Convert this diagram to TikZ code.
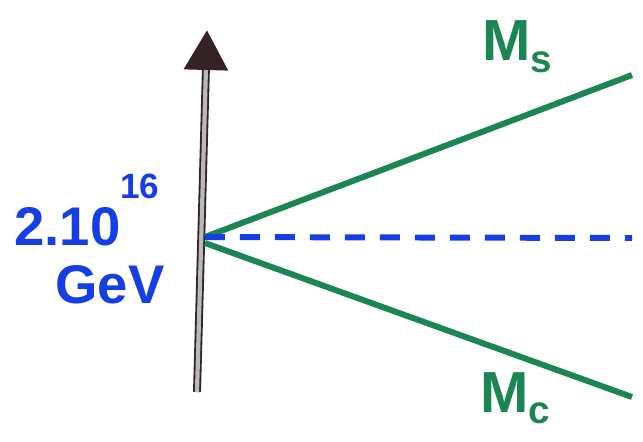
\documentclass[tikz,border=0pt]{standalone}
\usepackage{fontspec}
\setmainfont{Liberation Sans}
\usetikzlibrary{arrows.meta,positioning}

\definecolor{tintablau}{RGB}{22,62,230}
\definecolor{tintaverd}{RGB}{28,134,82}
\definecolor{tintafosc}{RGB}{52,34,36}

\begin{document}
\begin{tikzpicture}[x=0.02cm, y=-0.02cm,
    eix/.style={line width=4.5pt, draw=tintafosc,
        -{Triangle[length=0.8cm, width=0.85cm]}},
    eixcos/.style={line width=2.4pt, draw=gray!55, shorten >=0.8cm},
    recta/.style={line width=3.4pt, draw=tintaverd},
    unif/.style={line width=3.4pt, draw=tintablau, dash pattern=on 0.4cm off 0.3cm},
    etverd/.style={text=tintaverd, font=\bfseries\fontsize{33}{36}\selectfont, inner sep=0pt},
    etblau/.style={text=tintablau, font=\bfseries\fontsize{31}{34}\selectfont, inner sep=0pt}
]
    \useasboundingbox (0,0) rectangle (643,441);

    % eix d'energia
    \coordinate (base) at (197,392);
    \coordinate (cim) at (207,30);
    \coordinate (gut) at (205,237);
    \draw[eix] (base) -- (cim);
    \draw[eixcos] (base) -- (cim);

    % extrems de les rectes
    \coordinate (fiS) at (632,75);
    \coordinate (fiC) at (632,397);
    \coordinate (fiU) at (632,238);
    \draw[recta] (gut) -- (fiS);
    \draw[recta] (205,243) -- (fiC);
    \draw[unif] (gut) -- (fiU);

    % etiquetes
    \node[etverd, anchor=base west] (ms) at (482,60)
        {M\raisebox{-0.22em}{\fontsize{22}{24}\selectfont s}};
    \node[etverd, anchor=base west] (mc) at (480,412)
        {M\raisebox{-0.2em}{\fontsize{22}{24}\selectfont c}};
    \node[etblau, anchor=base west] (escala) at (14,245)
        {2.10\raisebox{0.85em}{\fontsize{20}{22}\selectfont 16}};
    \node[etblau, anchor=base] (gev) at (110,303) {GeV};
\end{tikzpicture}
\end{document}
